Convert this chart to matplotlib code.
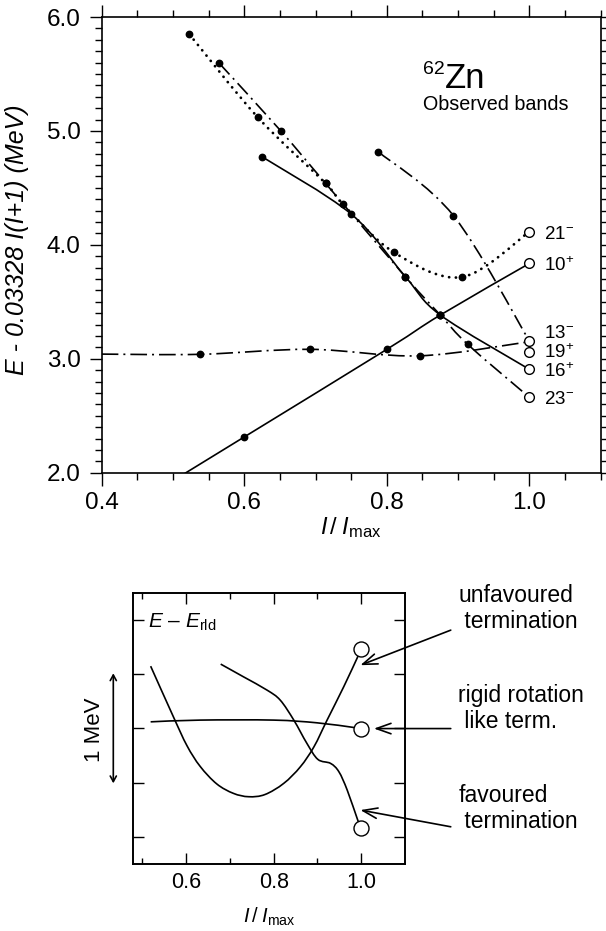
import numpy as np
import matplotlib
matplotlib.use('Agg')
import matplotlib.pyplot as plt
from matplotlib.path import Path
from matplotlib.patches import PathPatch
from matplotlib.ticker import MultipleLocator, FixedLocator

plt.rcParams['font.family'] = ['Liberation Sans', 'DejaVu Sans']
plt.rcParams['mathtext.fontset'] = 'custom'
plt.rcParams['mathtext.rm'] = 'Liberation Sans'
plt.rcParams['mathtext.it'] = 'Liberation Sans:italic'
plt.rcParams['mathtext.bf'] = 'Liberation Sans:bold'

# ---------------- top panel data (62Zn observed bands) ----------------
band21_x = [0.523, 0.619, 0.714, 0.7385, 0.810, 0.905, 1.0]
band21_y = [5.848, 5.119, 4.540, 4.356, 3.934, 3.717, 4.115]
band23_x = [0.565, 0.651, 0.714, 0.826, 0.875, 0.9135, 1.0]
band23_y = [5.593, 5.002, 4.540, 3.720, 3.384, 3.126, 2.661]
band16_x = [0.625, 0.750, 0.826, 0.875, 1.0]
band16_y = [4.773, 4.270, 3.720, 3.384, 2.907]
band13_x = [0.788, 0.8935, 1.0]
band13_y = [4.817, 4.256, 3.155]
band19_x = [0.40, 0.538, 0.692, 0.846, 1.0]
band19_y = [3.041, 3.039, 3.083, 3.026, 3.150]
band10_x = [0.50, 0.599, 0.800, 0.875, 1.0]
band10_y = [1.930, 2.310, 3.083, 3.384, 3.837]

term_x = [1.0, 1.0, 1.0, 1.0, 1.0, 1.0]
term_y = [4.115, 3.837, 3.155, 3.056, 2.907, 2.661]
term_labels = [r'21$^{-}$', r'10$^{+}$', r'13$^{-}$', r'19$^{+}$', r'16$^{+}$', r'23$^{-}$']
term_label_y = [4.048, 3.770, 3.179, 3.003, 2.841, 2.602]

x_ticks_top = [0.4, 0.6, 0.8, 1.0]
x_ticklabels_top = ['0.4', '0.6', '0.8', '1.0']
y_ticks_top = [2.0, 3.0, 4.0, 5.0, 6.0]
y_ticklabels_top = ['2.0', '3.0', '4.0', '5.0', '6.0']

# ---------------- bottom panel data (schematic) ----------------
unfav_x = [0.519, 0.571, 0.602, 0.632, 0.670, 0.708, 0.743, 0.780, 0.823, 0.861,
           0.892, 0.922, 0.960, 0.992, 1.0]
unfav_y = [1.823, 1.356, 1.090, 0.900, 0.738, 0.651, 0.620, 0.640, 0.743, 0.896,
           1.080, 1.326, 1.633, 1.909, 1.977]
rigid_x = [0.519, 0.632, 0.800, 0.899, 0.983, 1.0]
rigid_y = [1.310, 1.326, 1.326, 1.301, 1.258, 1.248]
fav_x = [0.679, 0.731, 0.785, 0.815, 0.846, 0.876, 0.901, 0.930, 0.949, 0.968, 0.992, 1.0]
fav_y = [1.842, 1.725, 1.602, 1.510, 1.326, 1.111, 0.964, 0.927, 0.850, 0.681, 0.405, 0.329]
end_x = [1.0, 1.0, 1.0]
end_y = [1.977, 1.248, 0.329]

x_ticks_bot = [0.6, 0.8, 1.0]
x_ticklabels_bot = ['0.6', '0.8', '1.0']


def smooth_path(xs, ys):
    P = np.column_stack([xs, ys]).astype(float)
    n = len(P)
    verts = [P[0]]
    codes = [Path.MOVETO]
    for i in range(n - 1):
        p0 = P[i - 1] if i > 0 else P[i]
        p1 = P[i]
        p2 = P[i + 1]
        p3 = P[i + 2] if i + 2 < n else P[i + 1]
        verts += [p1 + (p2 - p0) / 6.0, p2 - (p3 - p1) / 6.0, p2]
        codes += [Path.CURVE4] * 3
    return Path(verts, codes)


def draw_curve(ax, xs, ys, ls='-', lw=1.2, cap='butt', z=2):
    patch = PathPatch(smooth_path(xs, ys), fill=False, edgecolor='black',
                      linewidth=lw, linestyle=ls, zorder=z)
    patch.set_capstyle(cap)
    ax.add_patch(patch)


W, H = 606, 931
fig = plt.figure(figsize=(W / 100, H / 100), dpi=100)

# ================= top panel =================
ax = fig.add_axes([101.7 / W, 1 - 472.7 / H, 499 / W, 455.7 / H])
ax.set_xlim(0.4, 1.1)
ax.set_ylim(2.0, 6.0)

dotted = (0, (0.05, 2.4))
dashdot = (0, (9, 3, 1.2, 3))
draw_curve(ax, band21_x, band21_y, ls=dotted, lw=2.0, cap='round')
draw_curve(ax, band23_x, band23_y, ls=dashdot, lw=1.2)
draw_curve(ax, band16_x, band16_y, ls='-', lw=1.2)
draw_curve(ax, band13_x, band13_y, ls=dashdot, lw=1.2)
draw_curve(ax, band19_x, band19_y, ls=(0, (10, 3, 1.2, 3)), lw=1.2)
draw_curve(ax, band10_x, band10_y, ls='-', lw=1.2)

dot_sets = [(band21_x, band21_y, slice(0, -1)), (band23_x, band23_y, slice(0, -1)),
            (band16_x, band16_y, slice(0, -1)), (band13_x, band13_y, slice(0, -1)),
            (band19_x, band19_y, slice(1, -1)), (band10_x, band10_y, slice(1, -1))]
for bx, by, sl in dot_sets:
    ax.plot(np.asarray(bx)[sl], np.asarray(by)[sl], 'o', color='black',
            markersize=4.6, zorder=4)

ax.plot(term_x, term_y, 'o', markerfacecolor='white', markeredgecolor='black',
        markeredgewidth=1.0, markersize=7, zorder=5, clip_on=False)
for lab, ly in zip(term_labels, term_label_y):
    ax.text(1.021, ly, lab, fontsize=13.5, ha='left', va='baseline', zorder=6)

ax.xaxis.set_major_locator(FixedLocator(x_ticks_top))
ax.set_xticklabels(x_ticklabels_top)
ax.xaxis.set_minor_locator(MultipleLocator(0.05))
ax.yaxis.set_major_locator(FixedLocator(y_ticks_top))
ax.set_yticklabels(y_ticklabels_top)
ax.yaxis.set_minor_locator(MultipleLocator(0.1))
ax.tick_params(which='both', direction='out', top=True, right=True,
               labeltop=False, labelright=False, width=1.0)
ax.tick_params(which='major', length=9, labelsize=17.5, pad=6)
ax.tick_params(axis='x', which='major', pad=5)
ax.tick_params(which='minor', length=5)
for s in ax.spines.values():
    s.set_linewidth(1.2)

fig.text(17.3 / W, 1 - 240 / H, 'E - 0.03328 I(I+1) (MeV)', rotation=90,
         ha='center', va='center', style='italic', fontsize=18)
fig.text(351 / W, 1 - 534 / H, r'$I\,/\;I_{\mathrm{max}}$', ha='center',
         va='baseline', fontsize=17)

fig.text(423.3 / W, 1 - 61 / H, '62', ha='left', va='top', fontsize=14)
fig.text(445 / W, 1 - 88.3 / H, 'Zn', ha='left', va='baseline', fontsize=25)
fig.text(423 / W, 1 - 110 / H, 'Observed bands', ha='left', va='baseline',
         fontsize=14.2)

# ================= bottom panel =================
ax2 = fig.add_axes([132.7 / W, 1 - 864 / H, 272.3 / W, 271.3 / H])
ax2.set_xlim(0.478, 1.1)
ax2.set_ylim(0.0, 2.5)

draw_curve(ax2, unfav_x, unfav_y, lw=1.2)
draw_curve(ax2, rigid_x, rigid_y, lw=1.2)
draw_curve(ax2, fav_x, fav_y, lw=1.2)
ax2.plot(end_x, end_y, 'o', markerfacecolor='white', markeredgecolor='black',
         markeredgewidth=1.0, markersize=10.8, zorder=5, clip_on=False)

ax2.xaxis.set_major_locator(FixedLocator(x_ticks_bot))
ax2.set_xticklabels(x_ticklabels_bot)
ax2.xaxis.set_minor_locator(FixedLocator([0.5, 0.7, 0.9]))
ax2.yaxis.set_major_locator(FixedLocator([0.25, 0.75, 1.25, 1.75, 2.25]))
ax2.tick_params(which='both', direction='in', top=True, right=True,
                labelleft=False, width=1.0)
ax2.tick_params(which='major', length=7.7, labelsize=15.5, pad=6)
ax2.tick_params(which='minor', length=4)
for s in ax2.spines.values():
    s.set_linewidth(1.4)

fig.text(269 / W, 1 - 923 / H, r'$I\,/\;I_{\mathrm{max}}$', ha='center',
         va='baseline', fontsize=14.5)
fig.text(148.3 / W, 1 - 628 / H, r'$E$ – $E_{\mathrm{rld}}$', ha='left',
         va='baseline', fontsize=15)

# 1 MeV scale arrow
fig.patches.append(matplotlib.patches.FancyArrowPatch(
    (113.3 / W, 1 - 783.3 / H), (113.3 / W, 1 - 673.3 / H),
    transform=fig.transFigure, arrowstyle='<->,head_length=4,head_width=2.2',
    linewidth=1.2, color='black', shrinkA=0, shrinkB=0))
fig.text(95 / W, 1 - 730 / H, '1 MeV', rotation=90, ha='center', va='center',
         fontsize=16)

arrow_kw = dict(arrowstyle='->,head_length=0.7,head_width=0.25', lw=1.2,
                color='black', shrinkA=0, shrinkB=0, mutation_scale=15)
ax2.annotate('', xy=(0.998, 1.832), xytext=(1.2045, 2.155), arrowprops=arrow_kw,
             annotation_clip=False)
ax2.annotate('', xy=(1.029, 1.248), xytext=(1.2045, 1.248), arrowprops=arrow_kw,
             annotation_clip=False)
ax2.annotate('', xy=(0.998, 0.497), xytext=(1.2045, 0.343), arrowprops=arrow_kw,
             annotation_clip=False)

fig.text(458.3 / W, 1 - 628.3 / H, 'unfavoured\n termination', ha='left',
         va='baseline', fontsize=16.5, linespacing=1.2)
fig.text(458.3 / W, 1 - 728.3 / H, 'rigid rotation\n like term.', ha='left',
         va='baseline', fontsize=16.5, linespacing=1.2)
fig.text(458.3 / W, 1 - 828.3 / H, 'favoured\n termination', ha='left',
         va='baseline', fontsize=16.5, linespacing=1.2)

fig.savefig('out.png', dpi=100)
